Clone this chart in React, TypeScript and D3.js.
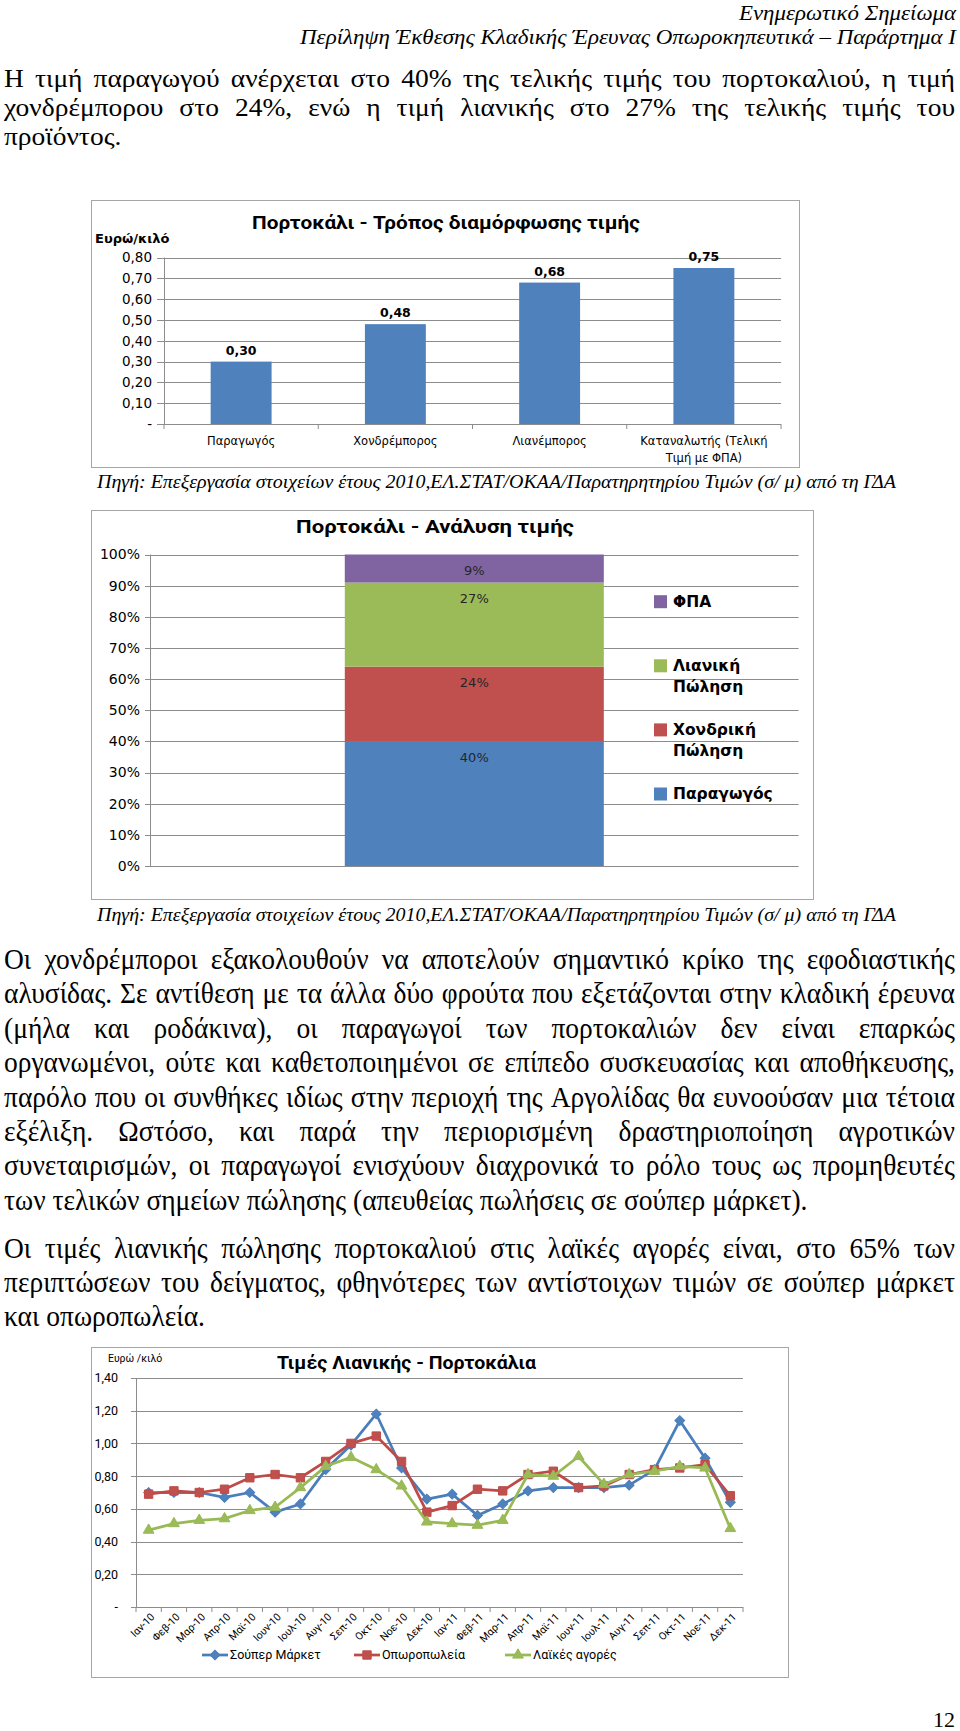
import React, { useEffect, useRef } from 'react';
import * as d3 from 'd3';

const WIDTH = 960;
const HEIGHT = 1731;

// ---------- text of the page ----------
const headerLines = ['Ενημερωτικό Σημείωμα', 'Περίληψη Έκθεσης Κλαδικής Έρευνας Οπωροκηπευτικά – Παράρτημα Ι'];
const para1 = [
  'Η τιμή παραγωγού ανέρχεται στο 40% της τελικής τιμής του πορτοκαλιού, η τιμή',
  'χονδρέμπορου στο 24%, ενώ η τιμή λιανικής στο 27% της τελικής τιμής του',
  'προϊόντος.',
];
const para2 = [
  'Οι χονδρέμποροι εξακολουθούν να αποτελούν σημαντικό κρίκο της εφοδιαστικής',
  'αλυσίδας. Σε αντίθεση με τα άλλα δύο φρούτα που εξετάζονται στην κλαδική έρευνα',
  '(μήλα και ροδάκινα), οι παραγωγοί των πορτοκαλιών δεν είναι επαρκώς',
  'οργανωμένοι, ούτε και καθετοποιημένοι σε επίπεδο συσκευασίας και αποθήκευσης,',
  'παρόλο που οι συνθήκες ιδίως στην περιοχή της Αργολίδας θα ευνοούσαν μια τέτοια',
  'εξέλιξη. Ωστόσο, και παρά την περιορισμένη δραστηριοποίηση αγροτικών',
  'συνεταιρισμών, οι παραγωγοί ενισχύουν διαχρονικά το ρόλο τους ως προμηθευτές',
  'των τελικών σημείων πώλησης (απευθείας πωλήσεις σε σούπερ μάρκετ).',
];
const para3 = [
  'Οι τιμές λιανικής πώλησης πορτοκαλιού στις λαϊκές αγορές είναι, στο 65% των',
  'περιπτώσεων του δείγματος, φθηνότερες των αντίστοιχων τιμών σε σούπερ μάρκετ',
  'και οπωροπωλεία.',
];
const sourceNote = 'Πηγή: Επεξεργασία στοιχείων έτους 2010,ΕΛ.ΣΤΑΤ/ΟΚΑΑ/Παρατηρητηρίου Τιμών (σ/ μ) από τη ΓΔΑ';
const pageNumber = '12';

// ---------- chart 1: price build-up ----------
const chart1Title = 'Πορτοκάλι - Τρόπος διαμόρφωσης τιμής';
const chart1Unit = 'Ευρώ/κιλό';
const stageNames = ['Παραγωγός', 'Χονδρέμπορος', 'Λιανέμπορος', 'Καταναλωτής (Τελική|Τιμή με ΦΠΑ)'];
const stagePrices = [0.3, 0.48, 0.68, 0.75];
const priceTicks = [0, 0.1, 0.2, 0.3, 0.4, 0.5, 0.6, 0.7, 0.8];

// ---------- chart 2: price breakdown ----------
const chart2Title = 'Πορτοκάλι - Ανάλυση τιμής';
const shareNames = ['Παραγωγός', 'Χονδρική Πώληση', 'Λιανική Πώληση', 'ΦΠΑ'];
const shareValues = [40, 24, 27, 9];
const shareColors = ['#4F81BD', '#C0504D', '#9BBB59', '#8064A2'];
const shareTicks = [0, 10, 20, 30, 40, 50, 60, 70, 80, 90, 100];

// ---------- chart 3: retail prices ----------
const chart3Title = 'Τιμές Λιανικής - Πορτοκάλια';
const chart3Unit = 'Ευρώ /κιλό';
const months = [
  'Ιαν-10', 'Φεβ-10', 'Μαρ-10', 'Απρ-10', 'Μαϊ-10', 'Ιουν-10', 'Ιουλ-10', 'Αυγ-10', 'Σεπ-10', 'Οκτ-10', 'Νοε-10', 'Δεκ-10',
  'Ιαν-11', 'Φεβ-11', 'Μαρ-11', 'Απρ-11', 'Μαϊ-11', 'Ιουν-11', 'Ιουλ-11', 'Αυγ-11', 'Σεπ-11', 'Οκτ-11', 'Νοε-11', 'Δεκ-11',
];
const superMarket = [0.7, 0.7, 0.7, 0.67, 0.7, 0.58, 0.63, 0.84, 0.99, 1.18, 0.85, 0.66, 0.69, 0.56, 0.63, 0.71, 0.73, 0.73, 0.73, 0.745, 0.84, 1.14, 0.91, 0.64];
const fruitShops = [0.69, 0.71, 0.7, 0.72, 0.79, 0.81, 0.79, 0.89, 1.0, 1.045, 0.89, 0.58, 0.62, 0.72, 0.71, 0.81, 0.83, 0.73, 0.74, 0.81, 0.84, 0.85, 0.87, 0.68];
const openMarkets = [0.47, 0.51, 0.53, 0.54, 0.59, 0.61, 0.73, 0.86, 0.915, 0.84, 0.74, 0.52, 0.51, 0.5, 0.53, 0.81, 0.8, 0.92, 0.75, 0.81, 0.83, 0.86, 0.85, 0.48];
const retailTicks = [0, 0.2, 0.4, 0.6, 0.8, 1.0, 1.2, 1.4];
const retailSeries = [
  { name: 'Σούπερ Μάρκετ', values: superMarket, line: '#4A7EBB', fill: '#4F81BD', marker: 'diamond' },
  { name: 'Οπωροπωλεία', values: fruitShops, line: '#BE4B48', fill: '#C0504D', marker: 'square' },
  { name: 'Λαϊκές αγορές', values: openMarkets, line: '#98B954', fill: '#9BBB59', marker: 'triangle' },
];

const greek = d3.formatLocale({ decimal: ',', thousands: '.', grouping: [3], currency: ['', '€'] });
const fmt2 = greek.format('.2f');
const priceLabel = (v: number) => (v === 0 ? '-' : fmt2(v));

const SERIF = '"Liberation Serif", "Times New Roman", serif';
const SANS = 'Roboto, "Noto Sans", sans-serif';
const WIDE = '"DejaVu Sans", Verdana, sans-serif';
const GRID = '#8c8c8c';
const FRAME = '#a6a6a6';

function markerPath(kind: string) {
  if (kind === 'diamond') return d3.symbol(d3.symbolSquare, 48)()!;
  if (kind === 'square') return d3.symbol(d3.symbolSquare, 70)()!;
  return d3.symbol(d3.symbolTriangle, 50)()!;
}

function PriceBuildUp() {
  const left = 164, right = 781, top = 257.6, bottom = 424;
  const y = d3.scaleLinear().domain([0, 0.8]).range([bottom, top]);
  const x = d3.scaleBand().domain(stageNames).range([left, right]).paddingInner(0.605).paddingOuter(0.3025);
  const slot = (right - left) / stageNames.length;
  return (
    <g>
      <rect x={91.5} y={200.5} width={708} height={267} fill="#fff" stroke={FRAME} />
      <text x={446} y={229} textAnchor="middle" fontFamily={SANS} fontSize={18} fontWeight="bold" textLength={388} lengthAdjust="spacingAndGlyphs">{chart1Title}</text>
      <text x={95} y={242.5} fontFamily={WIDE} fontSize={13} fontWeight="bold">{chart1Unit}</text>
      {priceTicks.map(t => (
        <g key={t}>
          <line x1={157} x2={right} y1={Math.round(y(t)) + 0.5} y2={Math.round(y(t)) + 0.5} stroke={GRID} />
          <text x={152} y={y(t)} dy="0.35em" textAnchor="end" fontFamily={WIDE} fontSize={13.5}>{priceLabel(t)}</text>
        </g>
      ))}
      <line x1={left + 0.5} x2={left + 0.5} y1={top} y2={bottom} stroke={GRID} />
      {d3.range(stageNames.length + 1).map(i => (
        <line key={i} x1={left + i * slot} x2={left + i * slot} y1={bottom} y2={bottom + 5} stroke={GRID} />
      ))}
      {stageNames.map((name, i) => (
        <g key={name}>
          <rect x={x(name)} y={y(stagePrices[i])} width={x.bandwidth()} height={bottom - y(stagePrices[i])} fill="#4F81BD" />
          <text x={x(name)! + x.bandwidth() / 2} y={y(stagePrices[i]) - 7} textAnchor="middle" fontFamily={WIDE} fontSize={12.5} fontWeight="bold">{fmt2(stagePrices[i])}</text>
          {name.split('|').map((part, j) => (
            <text key={j} x={x(name)! + x.bandwidth() / 2} y={444.5 + j * 17} textAnchor="middle" fontFamily={WIDE} fontSize={11.5}>{part}</text>
          ))}
        </g>
      ))}
    </g>
  );
}

function PriceBreakdown() {
  const left = 150, right = 798.6, top = 554.5, bottom = 866;
  const y = d3.scaleLinear().domain([0, 100]).range([bottom, top]);
  const x = d3.scaleBand().domain(['Πορτοκάλι']).range([left, right]).paddingOuter(0.752);
  const stacked = d3.stack<number[]>().keys(shareNames.map((_, i) => String(i))).value((d, k) => d[+k])([shareValues]);
  const legendNames = shareNames.map((n, i) => ({ n, i })).reverse();
  return (
    <g>
      <rect x={91.5} y={510.5} width={722} height={389} fill="#fff" stroke={FRAME} />
      <text x={435} y={533} textAnchor="middle" fontFamily={SANS} fontSize={18} fontWeight="bold" textLength={278} lengthAdjust="spacingAndGlyphs">{chart2Title}</text>
      {shareTicks.map(t => (
        <g key={t}>
          <line x1={145} x2={right} y1={Math.round(y(t)) + 0.5} y2={Math.round(y(t)) + 0.5} stroke={GRID} />
          <text x={140} y={y(t)} dy="0.35em" textAnchor="end" fontFamily={WIDE} fontSize={14}>{t}%</text>
        </g>
      ))}
      <line x1={left + 0.5} x2={left + 0.5} y1={top} y2={bottom} stroke={GRID} />
      {stacked.map((layer, i) => {
        const [y0, y1] = layer[0];
        return (
          <g key={i}>
            <rect x={x('Πορτοκάλι')} y={y(y1)} width={x.bandwidth()} height={y(y0) - y(y1)} fill={shareColors[i]} />
            <text x={x('Πορτοκάλι')! + x.bandwidth() / 2} y={y(y1) + 16} dy="0.35em" textAnchor="middle" fontFamily={WIDE} fontSize={13} fill="#262626">{shareValues[i]}%</text>
          </g>
        );
      })}
      {legendNames.map(({ n, i }, k) => (
        <g key={n} transform={`translate(654, ${601.7 + k * 64.1})`}>
          <rect x={0} y={-6.5} width={13} height={13} fill={shareColors[i]} />
          {n.split(' ').map((part, j) => (
            <text key={j} x={19} y={j * 21} dy="0.35em" fontFamily={WIDE} fontSize={15.5} fontWeight="bold">{part}</text>
          ))}
        </g>
      ))}
    </g>
  );
}

function RetailPrices() {
  const left = 136, right = 743, top = 1378, bottom = 1607;
  const y = d3.scaleLinear().domain([0, 1.4]).range([bottom, top]);
  const x = d3.scalePoint().domain(months).range([left, right]).padding(0.5);
  const slot = (right - left) / months.length;
  const line = d3.line<number>().x((_, i) => x(months[i])!).y(d => y(d));
  const legendX = [202, 354, 505];
  return (
    <g fontFamily={SANS}>
      <rect x={91.5} y={1347.5} width={697} height={330} fill="#fff" stroke={FRAME} />
      <text x={406.5} y={1369} textAnchor="middle" fontSize={17.5} fontWeight="bold" textLength={259} lengthAdjust="spacingAndGlyphs">{chart3Title}</text>
      <text x={108} y={1358} dy="0.35em" fontSize={10.5}>{chart3Unit}</text>
      {retailTicks.map(t => (
        <g key={t}>
          <line x1={131} x2={right} y1={Math.round(y(t)) + 0.5} y2={Math.round(y(t)) + 0.5} stroke={GRID} />
          <text x={118} y={y(t)} dy="0.35em" textAnchor="end" fontSize={12.5}>{priceLabel(t)}</text>
        </g>
      ))}
      <line x1={left + 0.5} x2={left + 0.5} y1={top} y2={bottom} stroke={GRID} />
      {d3.range(months.length + 1).map(i => (
        <line key={i} x1={left + i * slot} x2={left + i * slot} y1={bottom} y2={bottom + 5} stroke={GRID} />
      ))}
      {months.map(m => (
        <text key={m} transform={`translate(${x(m)! + 4}, ${bottom + 8}) rotate(-45)`} textAnchor="end" dy="0.35em" fontSize={10.5}>{m}</text>
      ))}
      {retailSeries.map(s => (
        <g key={s.name}>
          <path d={line(s.values)!} fill="none" stroke={s.line} strokeWidth={2.75} strokeLinejoin="round" />
          {s.values.map((v, i) => (
            <path key={i} d={markerPath(s.marker)} transform={`translate(${x(months[i])}, ${y(v)})${s.marker === 'diamond' ? ' rotate(45)' : ''}`} fill={s.fill} stroke={s.line} strokeWidth={1} />
          ))}
        </g>
      ))}
      {retailSeries.map((s, k) => (
        <g key={s.name} transform={`translate(${legendX[k]}, 1655)`}>
          <line x1={0} x2={26} y1={0} y2={0} stroke={s.line} strokeWidth={2.75} />
          <path d={markerPath(s.marker)} transform={`translate(13, 0)${s.marker === 'diamond' ? ' rotate(45)' : ''}`} fill={s.fill} stroke={s.line} />
          <text x={28} y={0} dy="0.35em" fontSize={12.5}>{s.name}</text>
        </g>
      ))}
    </g>
  );
}

// justified body text, measured in the browser
const BODY_FONT = 30;
const TEXT_LEFT = 4;
const TEXT_RIGHT = 955;
const LAST_LINE_WIDTH = 201; // width of "και οπωροπωλεία." in the scan

export default function App() {
  const bodyRef = useRef<SVGGElement>(null);

  useEffect(() => {
    const g = d3.select(bodyRef.current);
    g.selectAll('*').remove();
    g.attr('font-family', SERIF).attr('fill', '#000');

    const probe = g.append('text').attr('font-size', BODY_FONT).text(para3[para3.length - 1]);
    const natural = (probe.node() as SVGTextElement).getComputedTextLength();
    probe.remove();
    const sx = LAST_LINE_WIDTH / natural;

    // fontSize sets the glyph height; glyph width always follows BODY_FONT
    const drawParagraph = (lines: string[], firstBaseline: number, lineStep: number, fontSize: number) => {
      const kx = sx * BODY_FONT / fontSize;
      const span = (TEXT_RIGHT - TEXT_LEFT) / kx;
      const pg = g.append('g')
        .attr('font-size', fontSize)
        .attr('transform', `translate(${TEXT_LEFT}, 0) scale(${kx}, 1)`);
      lines.forEach((line, i) => {
        const t = pg.append('text').attr('y', firstBaseline + i * lineStep);
        if (i === lines.length - 1) {
          t.attr('x', 0).text(line);
          return;
        }
        const words = line.split(' ');
        const spans = words.map(w => t.append('tspan').text(w));
        const widths = spans.map(s => (s.node() as SVGTSpanElement).getComputedTextLength());
        const total = d3.sum(widths);
        let gap = (span - total) / (words.length - 1);
        if (gap < 4) {
          const k = span / (total + 4 * (words.length - 1));
          gap = 4;
          t.attr('transform', `scale(${k}, 1)`);
        }
        let xPos = 0;
        spans.forEach((s, j) => {
          s.attr('x', xPos);
          xPos += widths[j] + gap;
        });
      });
    };

    drawParagraph(para1, 87, 28.8, 25.8);
    drawParagraph(para2, 969, 34.4, BODY_FONT);
    drawParagraph(para3, 1258, 34.2, BODY_FONT);
  }, []);

  return (
    <div style={{ position: 'absolute', left: 0, top: 0 }}>
      <svg width={WIDTH} height={HEIGHT} viewBox={`0 0 ${WIDTH} ${HEIGHT}`} style={{ display: 'block', background: '#fff' }}>
        <g fontFamily={SERIF} fontStyle="italic" fontSize={20}>
          <text x={739} y={19.5} textLength={217} lengthAdjust="spacingAndGlyphs">{headerLines[0]}</text>
          <text x={300} y={43.5} textLength={656} lengthAdjust="spacingAndGlyphs">{headerLines[1]}</text>
        </g>
        <g ref={bodyRef} />
        <PriceBuildUp />
        <g fontFamily={SERIF} fontStyle="italic" fontSize={18.5}>
          <text x={97} y={488} textLength={799} lengthAdjust="spacingAndGlyphs">{sourceNote}</text>
        </g>
        <PriceBreakdown />
        <g fontFamily={SERIF} fontStyle="italic" fontSize={18.5}>
          <text x={97} y={921} textLength={799} lengthAdjust="spacingAndGlyphs">{sourceNote}</text>
        </g>
        <RetailPrices />
        <text x={955} y={1727} textAnchor="end" fontFamily={SERIF} fontSize={22}>{pageNumber}</text>
      </svg>
    </div>
  );
}
